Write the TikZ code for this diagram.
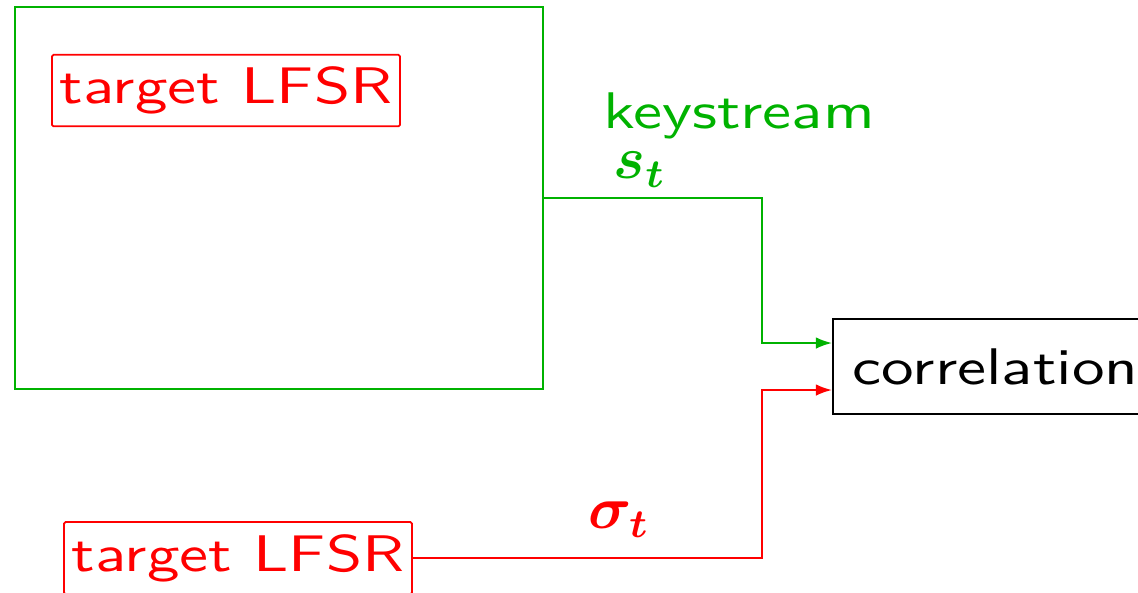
\documentclass[tikz,border=0pt]{standalone}
\usepackage{amsmath}
\usepackage{graphicx}
\usetikzlibrary{arrows.meta,calc}
\definecolor{kgreen}{RGB}{0,178,0}
\definecolor{kred}{RGB}{255,0,0}
\newcommand{\wide}[1]{\scalebox{1.265}[1]{#1}}
\begin{document}
\begin{tikzpicture}[x=0.2pt,y=-0.2pt,
  every node/.style={font=\sffamily\fontsize{10.3}{12}\selectfont},
  redbox/.style={draw=kred,text=kred,line width=0.35pt,rounded corners=0.3pt,minimum width=69.6pt,minimum height=14.3pt,inner sep=0pt},
  genbox/.style={draw=kgreen,line width=0.4pt,minimum width=105.6pt,minimum height=76.4pt,inner sep=0pt},
  corrbox/.style={draw=black,line width=0.4pt,minimum height=19pt,inner xsep=4pt,anchor=west},
  conn/.style={line width=0.4pt,-{Latex[length=3.2pt,width=2.3pt]}},
  mlabel/.style={font=\fontsize{11.5}{13}\selectfont,inner sep=0pt},
  tlabel/.style={inner sep=0pt}
]
\useasboundingbox (0,0) rectangle (1138,592);
\node[genbox] (gen) at (279,198) {};
\node[redbox] (tlA) at (226,90.5) {\wide{target LFSR}};
\node[redbox,minimum height=14.4pt] (tlB) at (238,558) {\wide{target LFSR}};
\node[corrbox] (corr) at (832,366.5) {\wide{correlation}};
\node[text=kgreen,tlabel] (ks) at (739,116) {\wide{keystream}};
\node[text=kgreen,mlabel] (st) at (640,170) {$\boldsymbol{s_t}$};
\node[text=kred,mlabel] (sig) at (619,520) {$\boldsymbol{\sigma_t}$};
\draw[conn,kgreen] (gen.east) -- ++(218,0) |- ([yshift=4.7pt]corr.west);
\draw[conn,kred] (tlB.east) -- ++(349,0) |- ([yshift=-4.7pt]corr.west);
\end{tikzpicture}
\end{document}
